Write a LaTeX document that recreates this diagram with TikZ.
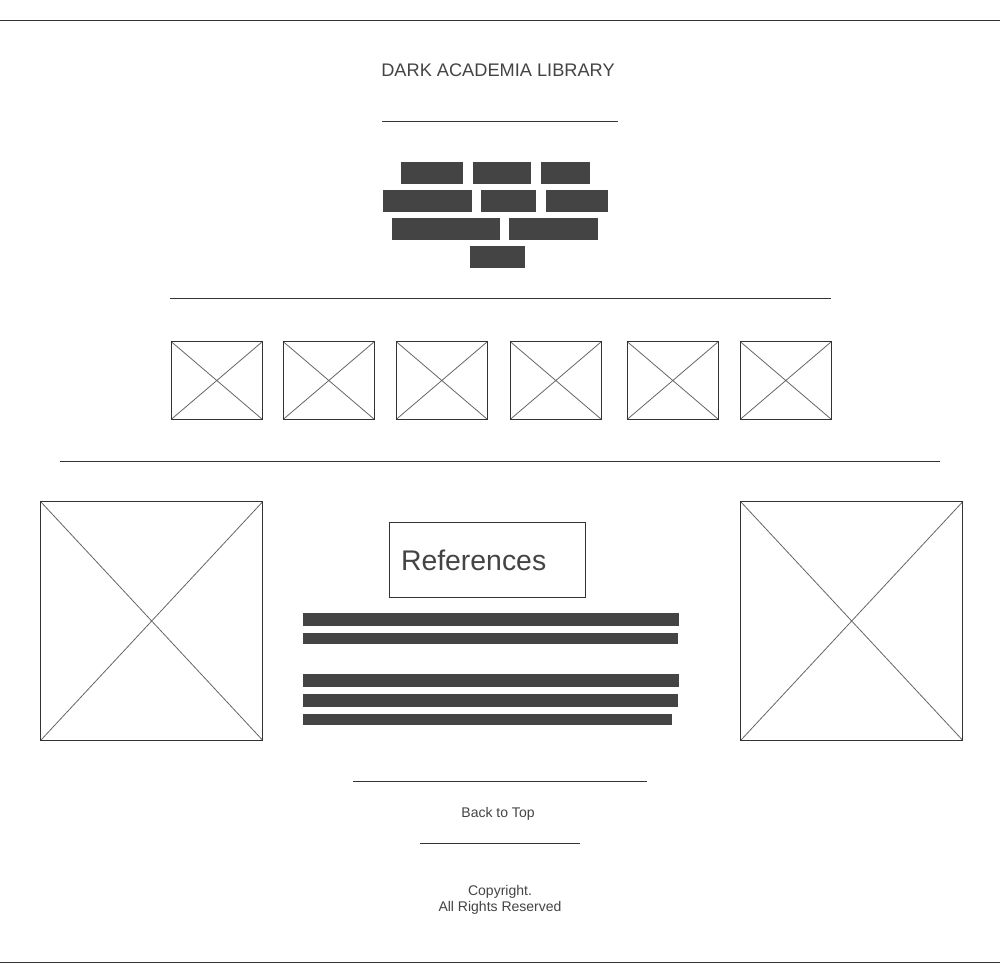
\documentclass[tikz,border=0pt]{standalone}
\usepackage{fontspec}
\setmainfont{Liberation Sans}
\definecolor{ink}{HTML}{333333}
\definecolor{blockc}{HTML}{444444}
\definecolor{txtc}{HTML}{444444}
\definecolor{diagc}{HTML}{666666}
\tikzset{
  sepline/.style={draw=ink,line width=1pt},
  phbox/.style={draw=ink,line width=1pt},
  phdiag/.style={draw=diagc,line width=0.8pt},
  navblock/.style={fill=blockc},
  textbar/.style={fill=blockc},
  label/.style={text=txtc,inner sep=0pt,anchor=base},
}
\newcommand\imgholder[4]{%
  \draw[phdiag] (#1,#2) -- (#3,#4) (#1,#4) -- (#3,#2);
  \draw[phbox] (#1,#2) rectangle (#3,#4);}
\begin{document}
\begin{tikzpicture}[x=1pt,y=-1pt]
\useasboundingbox (0,0) rectangle (1000,979);
\fill[white] (0,0) rectangle (1000,979);
% separators
\draw[sepline] (0,20.3) -- (1000,20.3);
\draw[sepline] (382,121) -- (618,121);
\draw[sepline] (170,298.3) -- (831,298.3);
\draw[sepline] (60,461.3) -- (940,461.3);
\draw[sepline] (353,781) -- (647,781);
\draw[sepline] (420,843) -- (580,843);
\draw[sepline] (0,962.3) -- (1000,962.3);
% title
\node[label,font=\fontsize{18.2}{21.6}\selectfont] (title) at (498,76.7) {DARK ACADEMIA LIBRARY};
% nav blocks
\fill[navblock] (401,162) rectangle (463,184);
\fill[navblock] (473,162) rectangle (531,184);
\fill[navblock] (541,162) rectangle (590,184);
\fill[navblock] (383,190) rectangle (472,212);
\fill[navblock] (481,190) rectangle (536,212);
\fill[navblock] (546,190) rectangle (608,212);
\fill[navblock] (392,218) rectangle (500,240);
\fill[navblock] (509,218) rectangle (598,240);
\fill[navblock] (470,246) rectangle (525,268);
% small image placeholders
\imgholder{171.3}{341.7}{262.3}{419.3}
\imgholder{283.3}{341.7}{374.3}{419.3}
\imgholder{396.3}{341.7}{487.3}{419.3}
\imgholder{510.3}{341.7}{601.3}{419.3}
\imgholder{627.3}{341.7}{718.3}{419.3}
\imgholder{740.3}{341.7}{831.3}{419.3}
% big image placeholders
\imgholder{40.7}{501.7}{262.7}{740.3}
\imgholder{740.7}{501.7}{962.7}{740.3}
% references
\node[draw=ink,line width=1pt,minimum width=196.5pt,minimum height=75.5pt,inner sep=0pt] (refbox) at (487.3,559.9) {};
\node[label,anchor=base west,font=\fontsize{28.4}{33}\selectfont] (reftext) at (400.8,570) {References};
\fill[textbar] (303,613) rectangle (679,626);
\fill[textbar] (303,633) rectangle (678,644);
\fill[textbar] (303,674) rectangle (679,687);
\fill[textbar] (303,694) rectangle (678,707);
\fill[textbar] (303,714) rectangle (672,725);
% footer
\node[label,font=\fontsize{14}{16}\selectfont] (top) at (498,817) {Back to Top};
\node[label,font=\fontsize{14}{16}\selectfont] (copy1) at (500,895) {Copyright.};
\node[label,font=\fontsize{14}{16}\selectfont] (copy2) at (500,911) {All Rights Reserved};
\end{tikzpicture}
\end{document}
